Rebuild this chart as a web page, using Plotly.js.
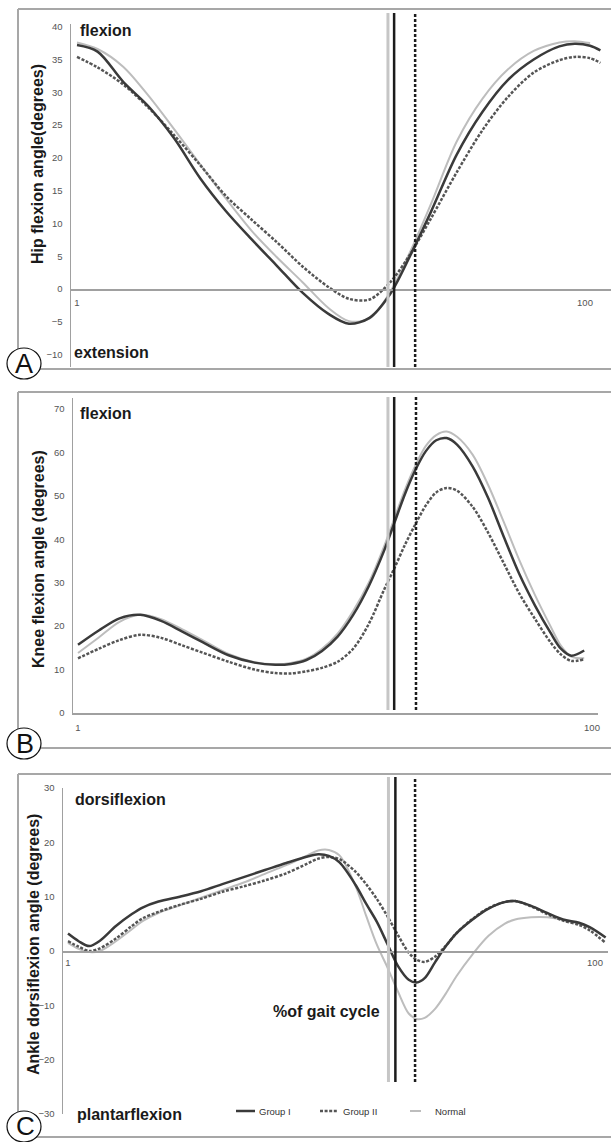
<!DOCTYPE html>
<html><head><meta charset="utf-8">
<script src="https://cdn.plot.ly/plotly-3.0.1.min.js"></script>
<style>html,body{margin:0;padding:0;background:#fff}#chart{width:611px;height:1142px}</style>
</head><body><div id="chart"></div>
<script>
// ---------- data ----------
const seriesNames = ['Group I', 'Group II', 'Normal'];
const xTickVals = [1, 100];
const xTickText = ['1', '100'];

const hipCycle    = [1,5,10,15,20,25,30,35,40,45,50,54,58,62,66,70,75,80,85,90,95,98,101,103];
const hipGroupI   = [37.2,36.2,31.6,27.8,22.9,16.9,11.9,7.6,3.5,-0.6,-3.8,-5.3,-4.4,-0.8,5.2,11.8,20.5,27.0,31.9,35.0,37.0,37.4,37.1,36.4];
const hipGroupII  = [35.4,33.8,31.2,27.6,23.4,18.9,14.2,10.6,7.1,3.4,0.3,-1.5,-1.6,1.0,5.4,10.8,17.8,24.2,29.3,33.0,34.9,35.4,35.2,34.5];
const hipNormal   = [37.6,36.6,33.9,29.4,24.3,19.0,13.8,8.9,4.8,1.0,-2.9,-4.9,-4.5,-0.5,5.8,13.0,22.5,29.0,33.5,36.3,37.6,37.8,37.5,null];
const hipToeOff   = [62.8, 66.9, 61.6];   // Group I, Group II, Normal
const hipTicks    = [-10,-5,0,5,10,15,20,25,30,35,40];

const kneeCycle   = [1,5,9,13,17,21,25,30,35,39,42,45,48,51,54,57,60,62,64,66,68,70,72,74,77,80,83,86,89,92,94,96,98.5];
const kneeGroupI  = [15.7,19.0,21.8,22.6,21.2,18.8,16.3,13.3,11.6,11.1,11.3,12.2,14.3,17.6,22.6,29.2,37.5,44.0,50.5,56.0,60.3,62.8,63.3,61.8,56.8,49.5,40.6,32.0,24.8,18.5,14.8,13.2,14.4];
const kneeGroupII = [12.6,14.8,16.8,18.0,17.3,15.6,13.9,11.8,10.0,9.2,9.1,9.6,10.4,11.8,14.8,20.5,28.5,33.5,38.8,43.5,47.8,50.8,51.8,51.2,47.5,41.5,34.5,27.5,21.7,16.3,13.5,12.0,12.4];
const kneeNormal  = [13.8,17.4,21.0,22.6,21.6,19.3,16.8,13.6,11.7,11.2,11.5,12.5,14.8,18.3,23.5,30.0,38.5,45.0,51.5,57.0,61.5,64.0,64.8,63.6,59.5,52.5,44.0,35.2,27.2,20.0,15.5,13.0,12.6];
const kneeToeOff  = [61.9, 66.1, 60.7];
const kneeTicks   = [0,10,20,30,40,50,60,70];

const ankleCycle   = [1,3,5,7,10,13,15,18,22,26,30,34,38,42,46,48,50,52,55,57,59,61,63,65,66.5,68,70,72,74,77,80,83,85,88,91,94,97,99,102];
const ankleGroupI  = [3.2,1.8,0.9,1.9,4.6,6.8,8.0,9.1,10.0,11.0,12.3,13.6,14.9,16.2,17.4,17.8,17.5,16.3,12.2,8.7,5.4,1.3,-2.8,-5.3,-5.8,-5.0,-2.0,0.9,3.3,5.8,7.8,9.0,9.2,8.3,7.0,5.8,5.2,4.4,2.5];
const ankleGroupII = [1.8,0.8,0.0,0.5,2.3,4.6,6.0,7.2,8.5,9.6,10.9,11.9,13.0,14.3,16.1,17.0,17.3,16.9,14.6,12.3,9.6,6.4,2.9,-0.3,-1.6,-2.0,-1.0,1.0,3.3,5.9,7.9,9.0,9.2,8.2,6.8,5.6,4.8,3.8,1.5];
const ankleNormal  = [1.5,0.4,-0.2,0.0,1.8,4.0,5.5,7.0,8.4,9.8,11.2,12.6,14.2,15.8,17.6,18.5,18.6,17.6,12.0,6.5,1.2,-3.0,-7.5,-11.5,-12.5,-12.3,-10.6,-7.8,-4.6,-0.6,2.8,5.0,5.8,6.2,6.2,5.7,5.0,4.4,null];
const ankleToeOff  = [62.5, 66.2, 61.2];
const ankleTicks   = [-30,-20,-10,0,10,20,30];

// ---------- styling / layout ----------
const W = 611, H = 1142;
const fx = p => p / W, fy = p => 1 - p / H;
const FONT = 'Liberation Sans, Arial, sans-serif';
const style = {
  'Group I':  {color: '#3a3a3a', width: 2.5, dash: 'solid'},
  'Group II': {color: '#555555', width: 2.5, dash: '3px,1.6px'},
  'Normal':   {color: '#bdbdbd', width: 2,   dash: 'solid'}
};
const vstyle = {
  'Group I':  {color: '#1c1c1c', width: 2.5, dash: 'solid'},
  'Group II': {color: '#1c1c1c', width: 2.5, dash: '3px,2px'},
  'Normal':   {color: '#c6c6c6', width: 3,   dash: 'solid'}
};

const panels = [
  {xa: 'x',  ya: 'y',  cycle: hipCycle,   series: [hipGroupI, hipGroupII, hipNormal],     toe: hipToeOff,   vTop: 13,  vBot: 367},
  {xa: 'x2', ya: 'y2', cycle: kneeCycle,  series: [kneeGroupI, kneeGroupII, kneeNormal],  toe: kneeToeOff,  vTop: 397, vBot: 710},
  {xa: 'x3', ya: 'y3', cycle: ankleCycle, series: [ankleGroupI, ankleGroupII, ankleNormal], toe: ankleToeOff, vTop: 777, vBot: 1082}
];

const traces = [];
const shapes = [];
panels.forEach(p => {
  [2, 1, 0].forEach(i => {
    const n = seriesNames[i];
    traces.push({
      type: 'scatter', mode: 'lines', name: n, x: p.cycle, y: p.series[i],
      xaxis: p.xa, yaxis: p.ya, showlegend: false, hoverinfo: 'skip',
      line: {color: style[n].color, width: style[n].width, dash: style[n].dash, shape: 'spline', smoothing: 0.9}
    });
  });
  [2, 0, 1].forEach(i => {
    const n = seriesNames[i];
    shapes.push({type: 'line', xref: p.xa, yref: 'paper', x0: p.toe[i], x1: p.toe[i],
      y0: fy(p.vBot), y1: fy(p.vTop), line: {color: vstyle[n].color, width: vstyle[n].width, dash: vstyle[n].dash}});
  });
});

// panel frames (top, left, bottom)
const frameCol = '#a7a7a7';
[[9, 369], [392, 748], [774, 1137]].forEach(([t, b]) => {
  shapes.push({type: 'line', xref: 'paper', yref: 'paper', x0: fx(18), x1: 1, y0: fy(t), y1: fy(t), line: {color: frameCol, width: 2}});
  shapes.push({type: 'line', xref: 'paper', yref: 'paper', x0: fx(18), x1: fx(18), y0: fy(t), y1: fy(b), line: {color: frameCol, width: 2}});
  shapes.push({type: 'line', xref: 'paper', yref: 'paper', x0: fx(18), x1: 1, y0: fy(b), y1: fy(b), line: {color: frameCol, width: 2}});
});
// panel letter circles
[[7, 41, 348, 379], [7, 41, 728, 759], [7, 41, 1111, 1142]].forEach(([a, b, c, d]) => {
  shapes.push({type: 'circle', xref: 'paper', yref: 'paper', x0: fx(a), x1: fx(b), y0: fy(d), y1: fy(c),
    fillcolor: '#ffffff', line: {color: '#111', width: 1.2}});
});

// legend (drawn manually at the bottom of panel C)
const legendPos = {'Group I': [236, 255, 257], 'Group II': [320, 338, 341], 'Normal': [410, 421, 433]};
const annotations = [];
seriesNames.forEach(n => {
  const [a, b, t] = legendPos[n];
  shapes.push({type: 'line', xref: 'paper', yref: 'paper', x0: fx(a), x1: fx(b), y0: fy(1111), y1: fy(1111),
    line: {color: style[n].color, width: style[n].width, dash: style[n].dash}});
  annotations.push({xref: 'paper', yref: 'paper', x: fx(t), y: fy(1111), xanchor: 'left', yanchor: 'middle',
    text: n, showarrow: false, font: {family: FONT, size: 9.5, color: '#333'}});
});

function txt(text, x, y, opts) {
  return Object.assign({xref: 'paper', yref: 'paper', x: fx(x), y: fy(y), text: text, showarrow: false,
    xanchor: 'left', yanchor: 'middle', font: {family: FONT, size: 16, color: '#1a1a1a'}}, opts || {});
}
annotations.push(
  txt('<b>flexion</b>', 78, 31),
  txt('<b>extension</b>', 72, 353),
  txt('<b>flexion</b>', 78, 413),
  txt('<b>dorsiflexion</b>', 73, 799),
  txt('<b>plantarflexion</b>', 75, 1114),
  txt('<b>%of gait cycle</b>', 326, 1011, {xanchor: 'center'}),
  txt('<b>Hip flexion angle(degrees)</b>', 38, 164, {xanchor: 'center', textangle: -90}),
  txt('<b>Knee flexion angle (degrees)</b>', 38, 559, {xanchor: 'center', textangle: -90}),
  txt('<b>Ankle dorsiflexion angle (degrees)</b>', 33, 945, {xanchor: 'center', textangle: -90}),
  txt('A', 24, 364, {xanchor: 'center', font: {family: FONT, size: 27, color: '#111'}}),
  txt('B', 25, 744, {xanchor: 'center', font: {family: FONT, size: 27, color: '#111'}}),
  txt('C', 25, 1126, {xanchor: 'center', font: {family: FONT, size: 26, color: '#111'}})
);

const tickFont = {family: FONT, size: 9.5, color: '#555'};
const axLine = {showline: true, linecolor: '#a0a0a0', linewidth: 1.5, showgrid: false, zeroline: false, ticks: '', fixedrange: true};
function xax(domA, domB, c1, c100, extra) {
  const ppc = (c100 - c1) / 99;
  return Object.assign({}, axLine, {domain: [fx(domA), fx(domB)],
    range: [1 - (c1 - domA) / ppc, 1 + (domB - c1) / ppc],
    tickmode: 'array', tickvals: xTickVals, ticktext: xTickText, tickfont: tickFont}, extra);
}
function yax(top, bot, vTop, vBot, ticks, extra) {
  return Object.assign({}, axLine, {domain: [fy(bot), fy(top)], range: [vBot, vTop],
    tickmode: 'array', tickvals: ticks, tickfont: tickFont, ticklabelstandoff: 5}, extra);
}

const layout = {
  width: W, height: H, margin: {l: 0, r: 0, t: 0, b: 0},
  paper_bgcolor: '#ffffff', plot_bgcolor: 'rgba(0,0,0,0)', showlegend: false,
  xaxis:  xax(71, 611, 77, 585, {anchor: 'free', position: fy(289), ticklabelstandoff: 4}),
  yaxis:  yax(24, 367, (289 - 24) / 6.557, (289 - 367) / 6.557, hipTicks, {anchor: 'x'}),
  xaxis2: xax(73, 598, 78, 592, {anchor: 'y2', ticklabelstandoff: 5}),
  yaxis2: yax(398, 713, (713 - 398) / 4.343, 0, kneeTicks, {anchor: 'x2'}),
  xaxis3: xax(63, 608, 68, 595, {anchor: 'free', position: fy(951), ticklabelstandoff: 2}),
  yaxis3: yax(788, 1114, 30, -30, ankleTicks, {anchor: 'x3'}),
  shapes: shapes, annotations: annotations
};

Plotly.newPlot('chart', traces, layout, {staticPlot: true, displayModeBar: false});
</script></body></html>
